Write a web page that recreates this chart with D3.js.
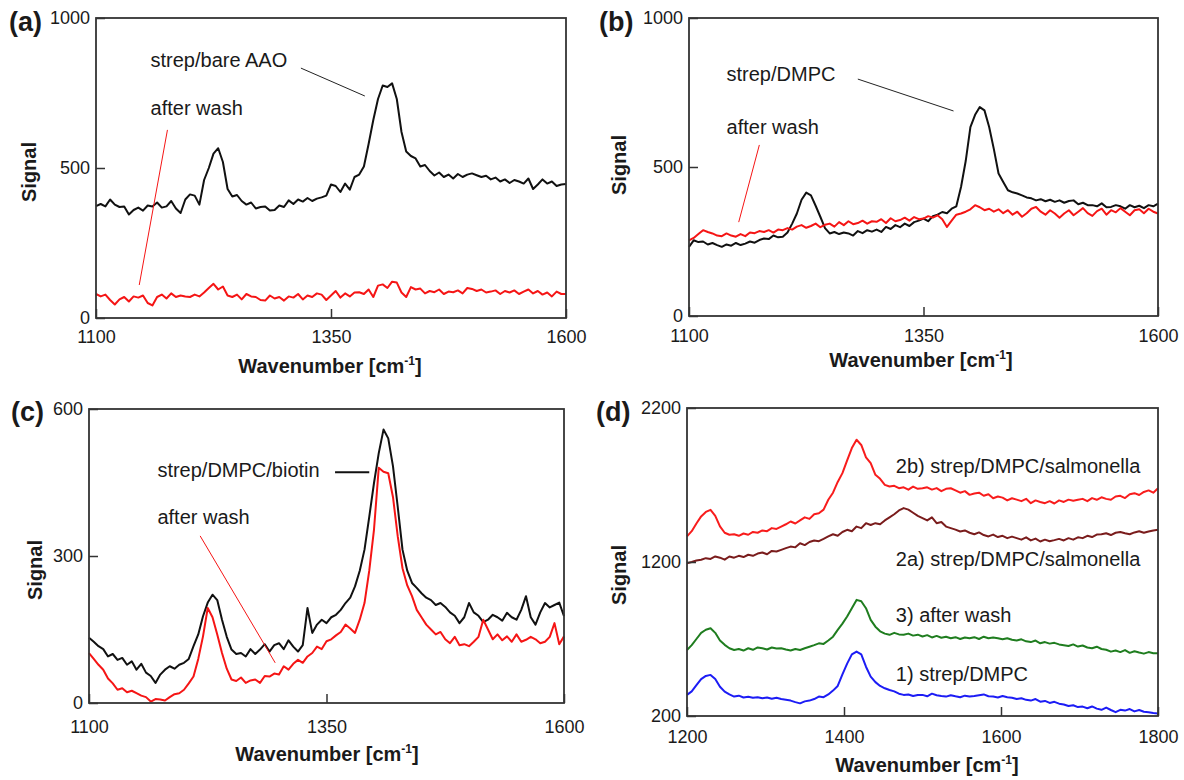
<!DOCTYPE html>
<html>
<head>
<meta charset="utf-8">
<script src="https://cdn.jsdelivr.net/npm/d3@7/dist/d3.min.js"></script>
<style>
  body { margin: 0; background: #fff; }
  text { font-family: Arial, "Liberation Sans", Helvetica, sans-serif; fill: #1a1a1a; }
</style>
</head>
<body>
<script>
// wavenumber grids (cm-1)
var wnABC = d3.range(1100, 1601, 5);
var wnD = d3.range(1200, 1801, 6);

// (a) strep on bare AAO
var aStrep = [
  373, 380, 372, 395, 378, 370, 372, 345, 360, 368,
  358, 375, 372, 385, 368, 372, 390, 365, 350, 395,
  412, 408, 378, 460, 500, 548, 566, 520, 430, 405,
  410, 390, 378, 385, 365, 370, 372, 358, 360, 375,
  370, 392, 380, 395, 388, 400, 390, 398, 402, 408,
  445, 440, 420, 448, 428, 470, 478, 505, 580, 660,
  730, 775, 770, 782, 730, 620, 555, 540, 532, 505,
  510, 490, 475, 485, 470, 478, 465, 480, 470, 478,
  482, 476, 470, 474, 462, 468, 455, 462, 450, 460,
  455, 448, 465, 430, 445, 462, 448, 455, 440, 445,
  447
];
var aWash = [
  80, 72, 78, 60, 45, 62, 70, 55, 72, 68,
  75, 50, 42, 70, 78, 65, 82, 70, 75, 72,
  70, 78, 72, 85, 100, 114, 95, 105, 75, 70,
  78, 62, 80, 72, 70, 60, 58, 75, 65, 70,
  58, 72, 68, 80, 62, 75, 70, 82, 78, 60,
  75, 90, 68, 82, 72, 85, 86, 80, 95, 70,
  108, 112, 100, 121, 118, 85, 70, 103, 95, 98,
  82, 90, 86, 95, 80, 88, 86, 92, 82, 100,
  97, 90, 95, 85, 88, 92, 80, 90, 85, 92,
  80, 88, 95, 82, 90, 78, 85, 72, 88, 80,
  80
];

// (b) strep on DMPC
var bStrep = [
  232, 254, 248, 250, 240, 245, 238, 232, 240, 236,
  245, 238, 243, 250, 246, 255, 260, 258, 270, 264,
  266, 280, 310, 344, 390, 414, 405, 370, 333, 295,
  277, 282, 275, 280, 277, 270, 285, 278, 288, 283,
  290, 282, 299, 292, 305, 298, 310, 302, 315, 320,
  327, 318, 335, 340, 349, 345, 360, 368, 433, 520,
  634, 675, 701, 690, 634, 560, 478, 450, 422, 415,
  411, 405, 398, 395, 388, 392, 385, 390, 383, 388,
  380, 386, 388, 375, 380, 372, 372, 368, 378, 365,
  366, 372, 368, 360, 372, 365, 370, 362, 372, 368,
  377
];
var bWash = [
  254, 262, 275, 288, 282, 277, 270, 268, 277, 270,
  266, 275, 268, 280, 278, 285, 282, 288, 280, 290,
  288, 295, 290, 300, 305, 296, 302, 310, 298, 306,
  310, 300, 315, 305, 318, 308, 312, 320, 310, 318,
  316, 325, 312, 328, 318, 322, 330, 320, 332, 325,
  327, 335, 330, 338, 325, 299, 320, 340, 344, 350,
  358, 372, 365, 355, 360, 350, 358, 345, 355, 340,
  350, 333, 345, 360, 366, 350, 340, 355, 344, 330,
  344, 355, 338, 350, 362, 345, 336, 352, 360, 340,
  355, 348, 362, 350, 338, 355, 358, 345, 360, 350,
  344
];

// (c) strep/DMPC/biotin
var cBiotin = [
  133, 125, 116, 110, 95, 100, 88, 92, 78, 85,
  68, 80, 62, 55, 41, 58, 68, 75, 70, 78,
  82, 90, 116, 140, 177, 205, 221, 210, 170, 135,
  109, 100, 102, 95, 110, 100, 109, 120, 105, 118,
  122, 110, 128, 115, 105, 118, 194, 143, 160, 170,
  163, 175, 180, 190, 204, 215, 238, 270, 313, 380,
  449, 510, 558, 540, 483, 400, 313, 270, 245, 235,
  224, 215, 210, 200, 204, 196, 185, 178, 163, 175,
  204, 185, 178, 165, 170, 180, 175, 168, 184, 175,
  170, 190, 218, 175, 160, 185, 204, 195, 200, 205,
  177
];
var cWash = [
  102, 90, 78, 68, 50, 40, 27, 30, 22, 25,
  20, 15, 12, 3, 8, 7, 5, 12, 18, 20,
  27, 40, 54, 90, 136, 194, 175, 140, 102, 70,
  48, 45, 52, 41, 46, 48, 41, 55, 54, 60,
  58, 75, 68, 80, 88, 82, 95, 102, 115, 110,
  126, 130, 138, 145, 160, 152, 143, 170, 204, 270,
  354, 480, 472, 469, 420, 340, 275, 240, 218, 190,
  175, 160, 150, 140, 145, 130, 122, 135, 118, 120,
  116, 125, 135, 170, 150, 130, 140, 128, 136, 125,
  140, 125, 129, 135, 130, 122, 125, 135, 163, 120,
  136
];

// (d) salmonella sequence
var d1Strep = [
  337, 360, 400, 440, 460, 467, 440, 390, 358, 340,
  326, 332, 320, 325, 318, 322, 315, 320, 312, 318,
  310, 305, 300, 290, 282, 295, 300, 310, 326, 322,
  340, 365, 395, 470, 540, 600, 618, 600, 520, 456,
  420, 395, 380, 369, 360, 345, 337, 340, 330, 337,
  337, 328, 345, 335, 330, 326, 335, 328, 322, 332,
  326, 330, 335, 340, 328, 326, 320, 330, 322, 318,
  310, 315, 305, 300, 310, 293, 298, 285, 292, 280,
  275, 265, 270, 258, 261, 250, 262, 248, 240, 255,
  239, 225, 240, 235, 245, 230, 239, 228, 225, 220,
  217
];
var d3Wash = [
  629, 660, 700, 740, 760, 770, 740, 690, 662, 640,
  629, 635, 625, 640, 630, 645, 640, 632, 645, 638,
  640, 632, 625, 635, 629, 640, 650, 660, 672, 668,
  690, 715, 759, 800, 846, 900, 954, 945, 900, 824,
  780, 750, 735, 727, 740, 730, 727, 735, 722, 728,
  716, 725, 710, 720, 708, 715, 705, 712, 700, 710,
  705, 712, 700, 715, 705, 710, 705, 698, 705, 695,
  690, 698, 685, 680, 690, 672, 680, 670, 675, 665,
  660, 655, 665, 651, 658, 645, 640, 650, 635, 630,
  618, 625, 615, 628, 610, 620, 612, 605, 615, 608,
  607
];
var d2aSalm = [
  1192, 1200, 1210, 1215, 1225, 1220, 1236, 1228, 1215, 1236,
  1228, 1240, 1232, 1247, 1240, 1255, 1262, 1250, 1272, 1268,
  1279, 1290, 1300, 1295, 1322, 1310, 1330, 1340, 1335, 1350,
  1366, 1380, 1370, 1395, 1409, 1400, 1430, 1420, 1452, 1440,
  1452, 1445, 1470, 1490, 1510, 1535, 1550, 1540, 1520, 1500,
  1485, 1470, 1490, 1452, 1460, 1430, 1420, 1410, 1398, 1405,
  1390, 1380, 1392, 1375, 1366, 1378, 1362, 1370, 1355, 1365,
  1355, 1345, 1360, 1340, 1352, 1333, 1345, 1335, 1342, 1350,
  1340, 1355, 1345, 1360, 1355, 1370, 1362, 1378, 1380, 1387,
  1375, 1390, 1395, 1387, 1380, 1392, 1400, 1390, 1398, 1405,
  1409
];
var d2bSalm = [
  1366, 1400, 1450, 1496, 1525, 1539, 1500, 1431, 1390, 1377,
  1380, 1370, 1385, 1377, 1395, 1390, 1405, 1400, 1420, 1415,
  1430, 1445, 1463, 1450, 1470, 1490, 1480, 1510, 1517, 1540,
  1604, 1650, 1720, 1777, 1860, 1940, 1994, 1960, 1880, 1842,
  1766, 1740, 1701, 1690, 1695, 1679, 1685, 1670, 1690, 1675,
  1679, 1685, 1670, 1680, 1660, 1675, 1679, 1665, 1650, 1660,
  1636, 1645, 1650, 1630, 1640, 1614, 1625, 1618, 1600, 1614,
  1605, 1595, 1610, 1582, 1600, 1590, 1582, 1595, 1580, 1600,
  1590, 1605, 1598, 1604, 1610, 1595, 1615, 1604, 1620, 1610,
  1604, 1625, 1630, 1615, 1640, 1647, 1635, 1655, 1665, 1650,
  1679
];

var RED = "#f51515", BLACK = "#111";

// layout of the four panels: box = [left, right, top, bottom]
var panels = [
  { tag: "(a)", tagPos: [9, 31], box: [96, 566, 18, 318],
    xDomain: [1100, 1600], yDomain: [0, 1000],
    xTicks: [1100, 1350, 1600], yTicks: [0, 500, 1000],
    xPad: 12, yTitle: [36, 172], xTitle: [330, 373],
    series: [
      { x: wnABC, y: aWash, color: RED },
      { x: wnABC, y: aStrep, color: BLACK }
    ],
    notes: [
      { text: "strep/bare AAO", at: [1158, 837] },
      { text: "after wash", at: [1158, 677] }
    ],
    leaders: [
      { from: [1318, 833], to: [1386, 740], color: "#222", w: 1 },
      { from: [1176, 627], to: [1146, 110], color: RED, w: 1 }
    ] },
  { tag: "(b)", tagPos: [599, 31], box: [689, 1158, 18, 316],
    xDomain: [1100, 1600], yDomain: [0, 1000],
    xTicks: [1100, 1350, 1600], yTicks: [0, 500, 1000],
    xPad: 13, yTitle: [626, 165], xTitle: [921, 367],
    series: [
      { x: wnABC, y: bStrep, color: BLACK },
      { x: wnABC, y: bWash, color: RED }
    ],
    notes: [
      { text: "strep/DMPC", at: [1140, 789] },
      { text: "after wash", at: [1140, 611] }
    ],
    leaders: [
      { from: [1280, 795], to: [1382, 688], color: "#222", w: 1 },
      { from: [1175, 574], to: [1153, 315], color: RED, w: 1 }
    ] },
  { tag: "(c)", tagPos: [11, 421], box: [89, 564, 409, 703],
    xDomain: [1100, 1600], yDomain: [0, 600],
    xTicks: [1100, 1350, 1600], yTicks: [0, 300, 600],
    xPad: 17, yTitle: [42, 570], xTitle: [327, 761],
    series: [
      { x: wnABC, y: cBiotin, color: BLACK },
      { x: wnABC, y: cWash, color: RED }
    ],
    notes: [
      { text: "strep/DMPC/biotin", at: [1172, 461] },
      { text: "after wash", at: [1172, 365] }
    ],
    leaders: [
      { from: [1359, 471], to: [1395, 471], color: BLACK, w: 2 },
      { from: [1217, 341], to: [1296, 82], color: RED, w: 1 }
    ] },
  { tag: "(d)", tagPos: [596, 421], box: [687, 1158, 408, 716],
    xDomain: [1200, 1800], yDomain: [200, 2200],
    xTicks: [1200, 1400, 1600, 1800], yTicks: [200, 1200, 2200],
    xPad: 14, yTitle: [626, 575], xTitle: [927, 772],
    series: [
      { x: wnD, y: d1Strep, color: "#1c1cf5" },
      { x: wnD, y: d3Wash, color: "#1f7d1f" },
      { x: wnD, y: d2aSalm, color: "#7a1c1c" },
      { x: wnD, y: d2bSalm, color: "#f81c1c" }
    ],
    notes: [
      { text: "2b) strep/DMPC/salmonella", at: [1466, 1778] },
      { text: "2a) strep/DMPC/salmonella", at: [1466, 1174] },
      { text: "3) after wash", at: [1466, 810] },
      { text: "1) strep/DMPC", at: [1466, 427] }
    ],
    leaders: [] }
];

var svg = d3.select("body").append("svg")
  .attr("width", 1184)
  .attr("height", 780);

panels.forEach(drawPanel);

function drawPanel(p) {
  var l = p.box[0], r = p.box[1], t = p.box[2], b = p.box[3];
  var x = d3.scaleLinear().domain(p.xDomain).range([l, r]);
  var y = d3.scaleLinear().domain(p.yDomain).range([b, t]);
  var g = svg.append("g");

  // spectra
  var line = d3.line()
    .x(function (d) { return x(d[0]); })
    .y(function (d) { return y(d[1]); });
  p.series.forEach(function (s) {
    g.append("path")
      .datum(d3.zip(s.x, s.y))
      .attr("fill", "none")
      .attr("stroke", s.color)
      .attr("stroke-width", 2)
      .attr("stroke-linejoin", "round")
      .attr("d", line);
  });

  // frame
  g.append("rect")
    .attr("x", l).attr("y", t)
    .attr("width", r - l).attr("height", b - t)
    .attr("fill", "none")
    .attr("stroke", "#333")
    .attr("stroke-width", 1.8);

  // axes, ticks pointing inward
  var xa = g.append("g")
    .attr("transform", "translate(0," + b + ")")
    .call(d3.axisBottom(x).tickValues(p.xTicks).tickFormat(d3.format("d"))
      .tickSizeInner(-9).tickSizeOuter(0).tickPadding(p.xPad));
  var ya = g.append("g")
    .attr("transform", "translate(" + l + ",0)")
    .call(d3.axisLeft(y).tickValues(p.yTicks).tickFormat(d3.format("d"))
      .tickSizeInner(-9).tickSizeOuter(0).tickPadding(6));
  [xa, ya].forEach(function (a) {
    a.select(".domain").remove();
    a.selectAll(".tick line").attr("stroke", "#333").attr("stroke-width", 1.5);
    a.selectAll(".tick text")
      .attr("fill", "#1a1a1a")
      .style("font-size", "18px")
      .style("font-family", "Arial, 'Liberation Sans', sans-serif");
  });

  // leader lines
  p.leaders.forEach(function (k) {
    g.append("line")
      .attr("x1", x(k.from[0])).attr("y1", y(k.from[1]))
      .attr("x2", x(k.to[0])).attr("y2", y(k.to[1]))
      .attr("stroke", k.color)
      .attr("stroke-width", k.w);
  });

  // curve labels
  p.notes.forEach(function (n) {
    g.append("text")
      .attr("x", x(n.at[0]))
      .attr("y", y(n.at[1]))
      .style("font-size", "20px")
      .text(n.text);
  });

  // axis titles
  g.append("text")
    .attr("transform", "translate(" + p.yTitle[0] + "," + p.yTitle[1] + ") rotate(-90)")
    .attr("text-anchor", "middle")
    .style("font-size", "20px")
    .style("font-weight", "bold")
    .text("Signal");

  var xt = g.append("text")
    .attr("x", p.xTitle[0])
    .attr("y", p.xTitle[1])
    .attr("text-anchor", "middle")
    .style("font-size", "20px")
    .style("font-weight", "bold");
  xt.append("tspan").text("Wavenumber [cm");
  xt.append("tspan").attr("dy", -8).style("font-size", "12px").text("-1");
  xt.append("tspan").attr("dy", 8).text("]");

  // panel tag
  g.append("text")
    .attr("x", p.tagPos[0])
    .attr("y", p.tagPos[1])
    .style("font-size", "27px")
    .style("font-weight", "bold")
    .text(p.tag);
}
</script>
</body>
</html>
